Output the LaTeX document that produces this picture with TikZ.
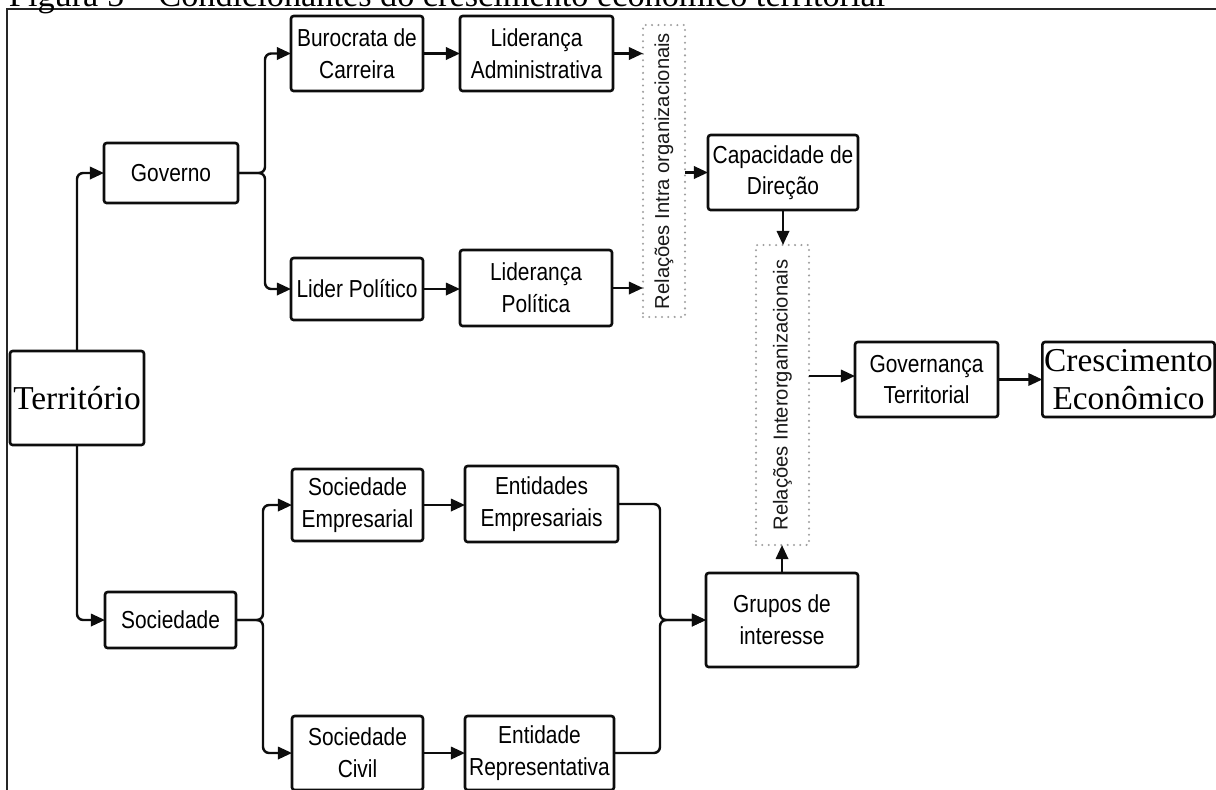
\documentclass[tikz,border=0pt]{standalone}
\usepackage{fontspec}
\setmainfont{Liberation Serif}
\newfontfamily\boxfont[FakeStretch=0.85]{Liberation Sans}
\newfontfamily\relfont{Liberation Sans}
\usepackage{tikz}
\usetikzlibrary{calc,arrows.meta}

\begin{document}
\begin{tikzpicture}[x=0.02cm,y=-0.02cm,every node/.style={outer sep=0pt}]

\useasboundingbox (0,0) rectangle (1216,789);

\tikzstyle{box}=[draw=black!95,line width=1.5pt,rounded corners=1.5pt,align=center,text=black,font=\boxfont\fontsize{14}{18}\selectfont,inner sep=2pt]
\tikzstyle{bigbox}=[box,font=\fontsize{19}{22}\selectfont,inner sep=1pt]
\tikzstyle{relbox}=[draw=gray!75,line width=1.3pt,line cap=round,dash pattern=on 0pt off 3.6pt]
\tikzstyle{reltext}=[rotate=90,text=black!90,font=\relfont\fontsize{11.5}{13}\selectfont]
\tikzstyle{arrow}=[-{Triangle[length=8pt,width=7pt]},line width=1.4pt,rounded corners=3.5pt,draw=black!95]

% frame and title
\draw[line width=0.9pt,black!85] (7,800) -- (7,9) -- (1230,9);
\node[anchor=base west,inner sep=0pt,font=\fontsize{19.5}{20}\selectfont] (title) at (9,6) {Figura 5 – Condicionantes do crescimento econômico territorial};

% left column
\node (terr) [bigbox,minimum width=2.68cm,minimum height=1.88cm] at (77,398) {Território};
\node (gov) [box,minimum width=2.68cm,minimum height=1.2cm] at (171,173) {Governo};
\node (soc) [box,minimum width=2.62cm,minimum height=1.12cm] at (170.5,620) {Sociedade};

% governo branch
\node (buro) [box,minimum width=2.64cm,minimum height=1.5cm] at (357,53.5) {Burocrata de\\Carreira};
\node (lidadm) [box,minimum width=3.06cm,minimum height=1.5cm] at (536.5,53.5) {Liderança\\Administrativa};
\node (lpol) [box,minimum width=2.64cm,minimum height=1.24cm] at (357,289) {Lider Político};
\node (lidpol) [box,minimum width=3.04cm,minimum height=1.52cm] at (536,288) {Liderança\\Política};

% sociedade branch
\node (socemp) [box,minimum width=2.62cm,minimum height=1.44cm] at (357.5,505) {Sociedade\\Empresarial};
\node (entemp) [box,minimum width=3.06cm,minimum height=1.52cm] at (541.5,504) {Entidades\\Empresariais};
\node (soccivil) [box,minimum width=2.62cm,minimum height=1.48cm] at (357.5,753) {Sociedade\\Civil};
\node (entrep) [box,minimum width=2.98cm,minimum height=1.48cm] at (539.5,753) {Entidade\\Representativa};

% relations
\node (intra) [relbox,minimum width=0.84cm,minimum height=5.84cm] at (664,171) {};
\node (intratext) [reltext] at (intra) {Relações Intra organizacionais};
\node (inter) [relbox,minimum width=1.06cm,minimum height=6.0cm] at (782.5,395) {};
\node (intertext) [reltext] at (inter) {Relações Interorganizacionais};

\node (cap) [box,minimum width=3.0cm,minimum height=1.5cm] at (783,172.5) {Capacidade de\\Direção};
\node (grupos) [box,minimum width=3.04cm,minimum height=1.88cm] at (782,620) {Grupos de\\interesse};
\node (govt) [box,minimum width=2.86cm,minimum height=1.5cm] at (926.5,379.5) {Governança\\Territorial};
\node (cresc) [bigbox,minimum width=3.42cm,minimum height=1.5cm] at (1128.5,379.5) {Crescimento\\Econômico};

% split points
\coordinate (govsplit) at (265,173);
\coordinate (socsplit) at (263,620);
\coordinate (grpsplit) at (660,620);

% arrows
\draw[arrow] (terr.north) |- (gov.west);
\draw[arrow] (terr.south) |- (soc.west);
\draw[arrow] (gov.east) -- (govsplit) |- (buro.west);
\draw[arrow] (gov.east) -- (govsplit) |- (lpol.west);
\draw[arrow] (buro.east) -- (lidadm.west);
\draw[arrow] (lpol.east) -- (lpol.east -| lidpol.west);
\draw[arrow] (lidadm.east) -- (lidadm.east -| intra.west);
\draw[arrow] (lidpol.east) -- (lidpol.east -| intra.west);
\draw[arrow] (soc.east) -- (socsplit) |- (socemp.west);
\draw[arrow] (soc.east) -- (socsplit) |- (soccivil.west);
\draw[arrow] (socemp.east) -- (socemp.east -| entemp.west);
\draw[arrow] (soccivil.east) -- (soccivil.east -| entrep.west);
\draw[arrow] (entemp.east) -| (grpsplit) -- (grupos.west);
\draw[arrow] (entrep.east) -| (grpsplit) -- (grupos.west);
\draw[arrow] (intra.east |- cap.west) -- (cap.west);
\draw[arrow] (cap.south) -- (cap.south |- inter.north);
\draw[arrow] (grupos.north) -- (grupos.north |- inter.south);
\draw[arrow] (inter.east |- 0,376) -- (govt.west |- 0,376);
\draw[arrow] (govt.east) -- (cresc.west);
\end{tikzpicture}
\end{document}
